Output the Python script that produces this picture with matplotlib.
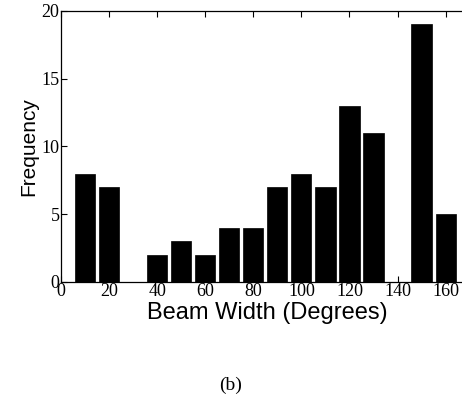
import matplotlib
matplotlib.use('Agg')
from matplotlib import pyplot as plt

beamWidths = [10, 20, 40, 50, 60, 70, 80, 90, 100, 110, 120, 130, 150, 160]
counts = [8, 7, 2, 3, 2, 4, 4, 7, 8, 7, 13, 11, 19, 5]
xTicks = [0, 20, 40, 60, 80, 100, 120, 140, 160]
yTicks = [0, 5, 10, 15, 20]

fig = plt.figure(figsize=(4.62, 4.19), dpi=100)
ax = fig.add_axes([0.132, 0.327, 0.895, 0.647])

ax.bar(beamWidths, counts, width=8.4, color='black', edgecolor='black', linewidth=0.5)

ax.set_xlim(0, 172)
ax.set_ylim(0, 20)
ax.set_xticks(xTicks)
ax.set_yticks(yTicks)
ax.tick_params(direction='in', top=True, right=False, length=4, width=0.8,
               labelsize=13, pad=1)
for lbl in ax.get_xticklabels() + ax.get_yticklabels():
    lbl.set_family('Liberation Serif')
for s in ax.spines.values():
    s.set_linewidth(0.9)
ax.spines['right'].set_visible(False)

ax.set_xlabel('Beam Width (Degrees)', family='Liberation Sans', fontsize=17, labelpad=1)
ax.set_ylabel('Frequency', family='Liberation Sans', fontsize=15, labelpad=2)

fig.text(0.5, 0.08, '(b)', family='Liberation Serif', fontsize=14, ha='center', va='center')

fig.savefig('out.png', dpi=100)
